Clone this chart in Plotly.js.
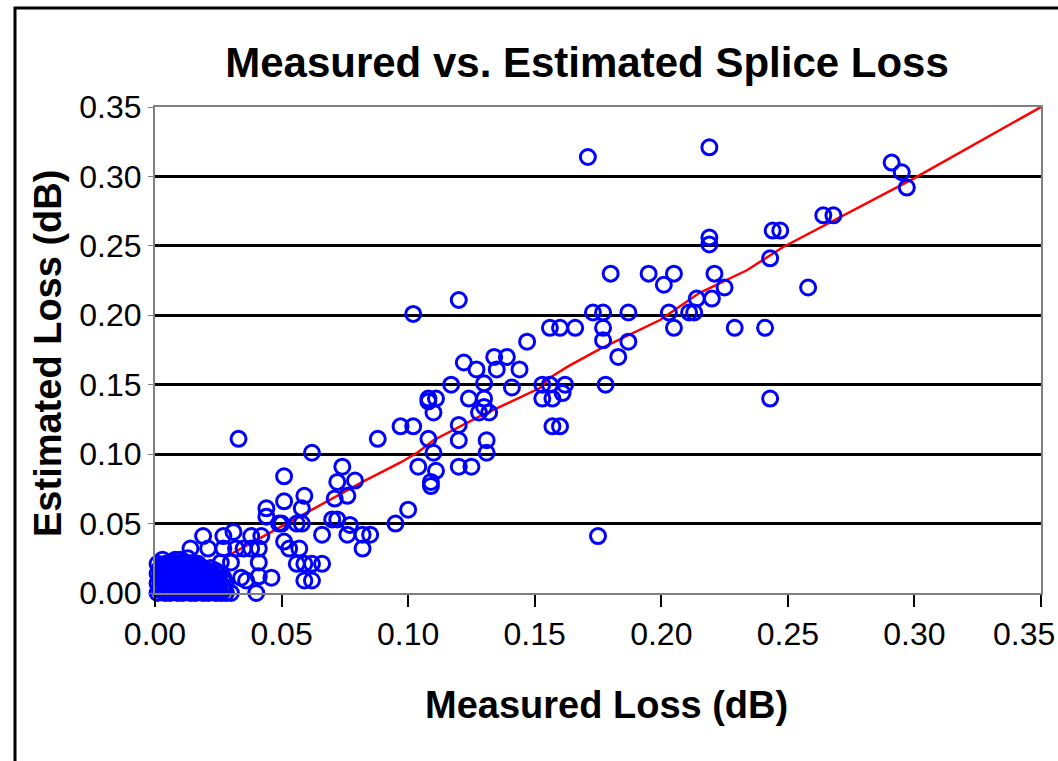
<!DOCTYPE html>
<html>
<head>
<meta charset="utf-8">
<script src="https://cdn.plot.ly/plotly-3.0.1.min.js"></script>
<style>
  html, body { margin: 0; padding: 0; background: #ffffff; }
  #chart { width: 1058px; height: 761px; }
</style>
</head>
<body>
<div id="chart"></div>
<script>
// Measured vs estimated splice loss (dB)
const measuredLoss = [
  0.171, 0.219, 0.180, 0.195, 0.201, 0.205, 0.221, 0.214, 0.220, 0.225,
  0.258, 0.219, 0.219, 0.243, 0.244, 0.247, 0.264, 0.268, 0.291, 0.295,
  0.297, 0.229, 0.241, 0.243, 0.120, 0.102, 0.173, 0.177, 0.187, 0.203,
  0.205, 0.211, 0.213, 0.156, 0.160, 0.166, 0.177, 0.147, 0.177, 0.187,
  0.183, 0.134, 0.139, 0.122, 0.135, 0.127, 0.144, 0.117, 0.130, 0.141,
  0.153, 0.156, 0.162, 0.178, 0.108, 0.111, 0.124, 0.130, 0.153, 0.157,
  0.161, 0.110, 0.128, 0.132, 0.130, 0.102, 0.097, 0.120, 0.120, 0.157,
  0.160, 0.108, 0.131, 0.131, 0.110, 0.104, 0.120, 0.125, 0.111, 0.109,
  0.109, 0.100, 0.175, 0.108,
  0.033, 0.062, 0.088, 0.051, 0.074, 0.072, 0.079, 0.076, 0.071, 0.059,
  0.051, 0.058, 0.044, 0.044, 0.049, 0.050, 0.056, 0.058, 0.066, 0.070,
  0.072, 0.077, 0.076, 0.082, 0.085, 0.095, 0.082, 0.051, 0.053, 0.057,
  0.056, 0.059, 0.062, 0.066, 0.059, 0.062, 0.046, 0.040, 0.019, 0.027,
  0.031, 0.038, 0.042, 0.014, 0.021, 0.027, 0.032, 0.035, 0.038, 0.041,
  0.041, 0.036, 0.041, 0.030, 0.013, 0.003, 0.007, 0.011, 0.030, 0.026,
  0.034,
  // dense cluster near the origin
  0.001, 0.004, 0.006, 0.009, 0.011, 0.014, 0.016, 0.019, 0.021, 0.024, 0.026, 0.028,
  0.002, 0.005, 0.008, 0.010, 0.013, 0.015, 0.018, 0.020, 0.023, 0.025, 0.027,
  0.002, 0.005, 0.007, 0.010, 0.012, 0.015, 0.017, 0.020, 0.022, 0.025, 0.027,
  0.001, 0.003, 0.006, 0.008, 0.011, 0.013, 0.016, 0.018, 0.021, 0.023, 0.026, 0.028,
  0.002, 0.005, 0.007, 0.010, 0.012, 0.015, 0.017, 0.020, 0.022, 0.025, 0.027,
  0.002, 0.004, 0.007, 0.009, 0.012, 0.014, 0.017, 0.019, 0.022, 0.024, 0.027,
  0.001, 0.003, 0.006, 0.008, 0.011, 0.013, 0.016, 0.018, 0.020, 0.023, 0.025,
  0.002, 0.004, 0.007, 0.009, 0.012, 0.014, 0.017, 0.019, 0.021, 0.024,
  0.002, 0.005, 0.007, 0.010, 0.012, 0.015, 0.017, 0.019, 0.022,
  0.003, 0.006, 0.008, 0.011, 0.013, 0.016,
  0.001, 0.004, 0.006, 0.009, 0.012, 0.014, 0.017,
  0.003, 0.008, 0.010
];
const estimatedLoss = [
  0.314, 0.321, 0.230, 0.230, 0.222, 0.230, 0.230, 0.212, 0.212, 0.220,
  0.220, 0.256, 0.251, 0.241, 0.261, 0.261, 0.272, 0.272, 0.310, 0.303,
  0.292, 0.191, 0.191, 0.140, 0.211, 0.201, 0.202, 0.202, 0.202, 0.202,
  0.191, 0.202, 0.202, 0.191, 0.191, 0.191, 0.191, 0.181, 0.182, 0.181,
  0.170, 0.170, 0.170, 0.166, 0.161, 0.161, 0.161, 0.150, 0.151, 0.148,
  0.150, 0.150, 0.150, 0.150, 0.140, 0.140, 0.140, 0.140, 0.140, 0.140,
  0.144, 0.130, 0.130, 0.130, 0.134, 0.120, 0.120, 0.121, 0.110, 0.120,
  0.120, 0.111, 0.110, 0.101, 0.101, 0.091, 0.091, 0.091, 0.088, 0.080,
  0.077, 0.060, 0.041, 0.138,
  0.111, 0.101, 0.111, 0.084, 0.091, 0.080, 0.081, 0.070, 0.068, 0.070,
  0.066, 0.061, 0.061, 0.055, 0.050, 0.050, 0.050, 0.050, 0.042, 0.053,
  0.053, 0.049, 0.042, 0.042, 0.042, 0.050, 0.032, 0.037, 0.032, 0.032,
  0.021, 0.021, 0.021, 0.021, 0.009, 0.009, 0.011, 0.000, 0.041, 0.041,
  0.044, 0.041, 0.041, 0.032, 0.032, 0.032, 0.032, 0.032, 0.032, 0.032,
  0.022, 0.009, 0.012, 0.000, 0.025, 0.020, 0.022, 0.022, 0.022, 0.022,
  0.011,
  // dense cluster near the origin
  0.000, 0.000, 0.000, 0.000, 0.000, 0.000, 0.000, 0.000, 0.000, 0.000, 0.000, 0.000,
  0.002, 0.002, 0.002, 0.002, 0.002, 0.002, 0.002, 0.002, 0.002, 0.002, 0.002,
  0.004, 0.004, 0.004, 0.004, 0.004, 0.004, 0.004, 0.004, 0.004, 0.004, 0.004,
  0.007, 0.007, 0.007, 0.007, 0.007, 0.007, 0.007, 0.007, 0.007, 0.007, 0.007, 0.007,
  0.009, 0.009, 0.009, 0.009, 0.009, 0.009, 0.009, 0.009, 0.009, 0.009, 0.009,
  0.011, 0.011, 0.011, 0.011, 0.011, 0.011, 0.011, 0.011, 0.011, 0.011, 0.011,
  0.014, 0.014, 0.014, 0.014, 0.014, 0.014, 0.014, 0.014, 0.014, 0.014, 0.014,
  0.016, 0.016, 0.016, 0.016, 0.016, 0.016, 0.016, 0.016, 0.016, 0.016,
  0.018, 0.018, 0.018, 0.018, 0.018, 0.018, 0.018, 0.018, 0.018,
  0.020, 0.020, 0.020, 0.020, 0.020, 0.020,
  0.021, 0.021, 0.021, 0.021, 0.021, 0.021, 0.021,
  0.024, 0.024, 0.024
];

// Red trend line
const trendX = [0.028, 0.030, 0.042, 0.060, 0.082, 0.097, 0.104, 0.110, 0.128, 0.152, 0.156, 0.163, 0.176, 0.1995, 0.215, 0.234, 0.248, 0.300, 0.350];
const trendY = [0.026, 0.028, 0.040, 0.058, 0.080, 0.094, 0.1015, 0.110, 0.127, 0.1476, 0.155, 0.163, 0.176, 0.1966, 0.216, 0.2326, 0.249, 0.2988, 0.350];

const axisTicks = [0, 0.05, 0.10, 0.15, 0.20, 0.25, 0.30, 0.35];
const tickText = ['0.00', '0.05', '0.10', '0.15', '0.20', '0.25', '0.30', '0.35'];

const FONT = '"Liberation Sans", Arial, sans-serif';

const traces = [
  {
    x: trendX, y: trendY, type: 'scatter', mode: 'lines',
    line: { color: '#ff0000', width: 2.5 },
    hoverinfo: 'skip', showlegend: false, cliponaxis: false
  },
  {
    x: measuredLoss, y: estimatedLoss, type: 'scatter', mode: 'markers',
    marker: { symbol: 'circle-open', size: 15, color: '#0000ff', line: { color: '#0000ff', width: 3 } },
    showlegend: false, cliponaxis: false
  }
];

// x tick labels: last one is drawn shifted inward (as in the reference) via an annotation
const xTickText = tickText.slice(0, tickText.length - 1).concat(['']);

const layout = {
  width: 1058, height: 761,
  margin: { l: 155, r: 17, t: 107, b: 168 },
  paper_bgcolor: '#ffffff', plot_bgcolor: '#ffffff',
  font: { family: FONT, color: '#000000' },
  showlegend: false,
  title: {
    text: '<b>Measured vs. Estimated Splice Loss</b>',
    font: { family: FONT, size: 42, color: '#000000' },
    xref: 'paper', x: 0.4876, xanchor: 'center',
    yref: 'container', y: 1 - 62 / 761, yanchor: 'middle'
  },
  xaxis: {
    range: [0, 0.35], tickvals: axisTicks, ticktext: xTickText,
    ticks: 'outside', ticklen: 12, tickwidth: 2, tickcolor: '#000000',
    showline: true, linecolor: '#808080', linewidth: 2, mirror: true,
    showgrid: false, zeroline: false,
    tickfont: { family: FONT, size: 32, color: '#000000' }
  },
  yaxis: {
    range: [0, 0.35], tickvals: axisTicks, ticktext: tickText,
    ticks: 'outside', ticklen: 5, tickwidth: 1, tickcolor: '#808080',
    showline: true, linecolor: '#808080', linewidth: 2, mirror: true,
    showgrid: true, gridcolor: '#000000', gridwidth: 3, zeroline: false,
    tickfont: { family: FONT, size: 32, color: '#000000' }
  },
  annotations: [
    {
      text: tickText[tickText.length - 1], showarrow: false,
      xref: 'paper', yref: 'paper',
      x: (1057 - 155) / 886, y: (593 - 634) / 486, xanchor: 'right', yanchor: 'middle',
      font: { family: FONT, size: 32, color: '#000000' }
    },
    {
      text: '<b>Measured Loss (dB)</b>', showarrow: false,
      xref: 'paper', yref: 'paper',
      x: (606 - 155) / 886, y: (593 - 705) / 486, xanchor: 'center', yanchor: 'middle',
      font: { family: FONT, size: 38, color: '#000000' }
    },
    {
      text: '<b>Estimated Loss (dB)</b>', showarrow: false, textangle: -90,
      xref: 'paper', yref: 'paper',
      x: (48 - 155) / 886, y: (593 - 354) / 486, xanchor: 'center', yanchor: 'middle',
      font: { family: FONT, size: 38, color: '#000000' }
    }
  ],
  shapes: [
    {
      type: 'rect', xref: 'paper', yref: 'paper',
      x0: (15 - 155) / 886, x1: (1120 - 155) / 886,
      y0: (593 - 820) / 486, y1: (593 - 8) / 486,
      line: { color: '#000000', width: 3 }, fillcolor: 'rgba(0,0,0,0)', layer: 'below'
    }
  ]
};

Plotly.newPlot('chart', traces, layout, { displayModeBar: false, staticPlot: true });
</script>
</body>
</html>
